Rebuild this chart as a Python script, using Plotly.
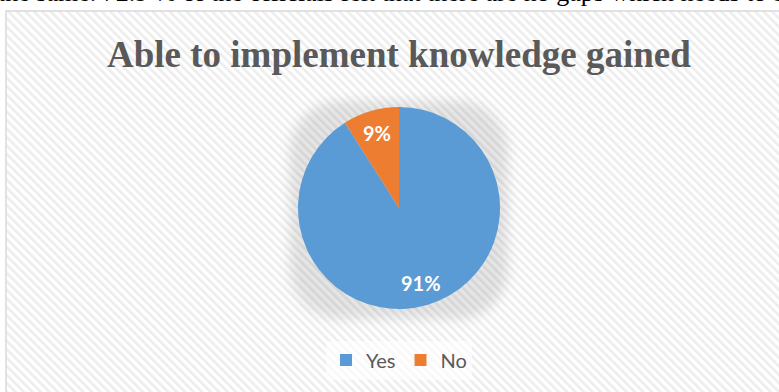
import base64
import math
import plotly.graph_objects as go

labels = ["Yes", "No"]
values = [91, 9]
colors = ["#5B9BD5", "#ED7D31"]
title_text = "Able to implement knowledge gained"
top_text = "the same. 72.9 % of the officials felt that there are no gaps which needs to be addressed"

W, H = 779, 392
fx0, fy0 = 6, 11          # chart frame top-left (px)
cx, cy, r = 399, 208, 101  # pie centre / radius (px)

# background: hatched frame + soft shadow behind the pie
fw, fh = W - fx0 + 20, H - fy0 + 20
svg = f'''<svg xmlns="http://www.w3.org/2000/svg" width="{fw}" height="{fh}">
<defs>
<pattern id="p" width="6" height="6" patternUnits="userSpaceOnUse" patternTransform="rotate(-45)">
<rect width="6" height="6" fill="#ffffff"/>
<rect width="2.6" height="6" fill="#ededed"/>
</pattern>
<filter id="b" x="-50%" y="-50%" width="200%" height="200%"><feGaussianBlur stdDeviation="6"/></filter>
</defs>
<rect x="0" y="0" width="{fw}" height="{fh}" fill="url(#p)"/>
<rect x="{cx - fx0 - r - 8}" y="{cy - fy0 - r - 6}" width="{2 * r + 16}" height="{2 * r + 16}" rx="{r * 0.5}" fill="#000" fill-opacity="0.10" filter="url(#b)"/>
</svg>'''
src = "data:image/svg+xml;base64," + base64.b64encode(svg.encode()).decode()

fig = go.Figure()
fig.add_trace(go.Pie(
    labels=labels, values=values,
    marker=dict(colors=colors, line=dict(width=0)),
    sort=False, direction="clockwise", rotation=0,
    textinfo="none",
    domain=dict(x=[(cx - r) / W, (cx + r) / W], y=[1 - (cy + r) / H, 1 - (cy - r) / H]),
    hoverinfo="label+percent",
))

# percentage labels placed like Excel's (along each slice's mid-angle, ~0.77 r)
total = sum(values)
cum = 0
for v in values:
    mid = 2 * math.pi * (cum + v / 2) / total  # clockwise from 12 o'clock
    cum += v
    px = cx + 0.77 * r * math.sin(mid)
    py = cy - 0.77 * r * math.cos(mid)
    fig.add_annotation(text=f"<b>{round(100 * v / total)}%</b>", xref="paper", yref="paper",
                       x=px / W, y=1 - py / H, xanchor="center", yanchor="middle",
                       showarrow=False,
                       font=dict(family="Lato", size=20, color="white"))

fig.add_layout_image(dict(
    source=src, xref="paper", yref="paper",
    x=fx0 / W, y=1 - fy0 / H, sizex=fw / W, sizey=fh / H,
    xanchor="left", yanchor="top", sizing="stretch", layer="below",
))

fig.add_shape(type="rect", xref="paper", yref="paper",
              x0=fx0 / W, x1=1.05, y0=-0.05, y1=1 - fy0 / H,
              line=dict(color="#d9d9d9", width=1.5), fillcolor="rgba(0,0,0,0)")

fig.add_annotation(text=f"<b>{title_text}</b>", xref="paper", yref="paper",
                   x=cx / W, y=1 - 55 / H, xanchor="center", yanchor="middle",
                   showarrow=False,
                   font=dict(family="Liberation Serif", size=37, color="#595959"))

fig.add_annotation(text=top_text, xref="paper", yref="paper",
                   x=-4 / W, y=1 + 7.5 / H, xanchor="left", yanchor="middle",
                   showarrow=False,
                   font=dict(family="Liberation Serif", size=26, color="#000000"))

fig.update_layout(
    width=W, height=H,
    margin=dict(l=0, r=0, t=0, b=0),
    paper_bgcolor="white",
    showlegend=True,
    legend=dict(orientation="h", x=cx / W, y=1 - 360 / H, xanchor="center", yanchor="middle",
                font=dict(family="Lato", size=20, color="#595959"),
                bgcolor="rgba(255,255,255,0.6)", itemwidth=30, traceorder="normal"),
)

fig.write_html("out.html")
